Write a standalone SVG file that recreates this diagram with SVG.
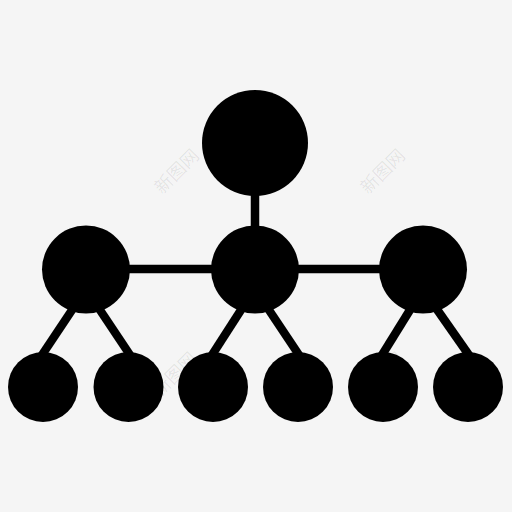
<svg xmlns="http://www.w3.org/2000/svg" width="512" height="512" viewBox="0 0 512 512">
<style>
.n{fill:#000}
.c line{stroke:#000;stroke-width:8.5}
.w{font-family:"Noto Sans CJK SC","Noto Sans",sans-serif;font-size:18px;fill:#000;fill-opacity:0.08}
</style>
<rect width="512" height="512" fill="#f5f5f5"/>
<g id="connectors" class="c">
<line x1="255" y1="190" x2="255" y2="232"/>
<line x1="120" y1="269" x2="390" y2="269"/>
<line x1="76.7" y1="303" x2="37.3" y2="362"/>
<line x1="95.3" y1="303" x2="134.7" y2="362"/>
<line x1="245.5" y1="303" x2="207.5" y2="362"/>
<line x1="264.3" y1="303" x2="303.7" y2="362"/>
<line x1="414.3" y1="303" x2="377.7" y2="362"/>
<line x1="432.5" y1="303" x2="473.8" y2="362"/>
</g>
<g id="top"><circle class="n" cx="255" cy="143" r="53"/></g>
<g id="mid-left"><circle class="n" cx="86" cy="269.5" r="44"/></g>
<g id="mid-center"><circle class="n" cx="255" cy="269.5" r="44"/></g>
<g id="mid-right"><circle class="n" cx="423" cy="269.5" r="44"/></g>
<g id="b1"><circle class="n" cx="43" cy="387" r="35"/></g>
<g id="b2"><circle class="n" cx="128.5" cy="387" r="35"/></g>
<g id="b3"><circle class="n" cx="213" cy="387" r="35"/></g>
<g id="b4"><circle class="n" cx="298" cy="387" r="35"/></g>
<g id="b5"><circle class="n" cx="383" cy="387" r="35"/></g>
<g id="b6"><circle class="n" cx="468" cy="387" r="35"/></g>
<g id="watermarks">
<text class="w" transform="translate(162,195) rotate(-45)">新图网</text>
<text class="w" transform="translate(368,195) rotate(-45)">新图网</text>
<text class="w" transform="translate(160,398) rotate(-45)">新图网</text>
<text class="w" transform="translate(367,398) rotate(-45)">新图网</text>
</g>
</svg>
